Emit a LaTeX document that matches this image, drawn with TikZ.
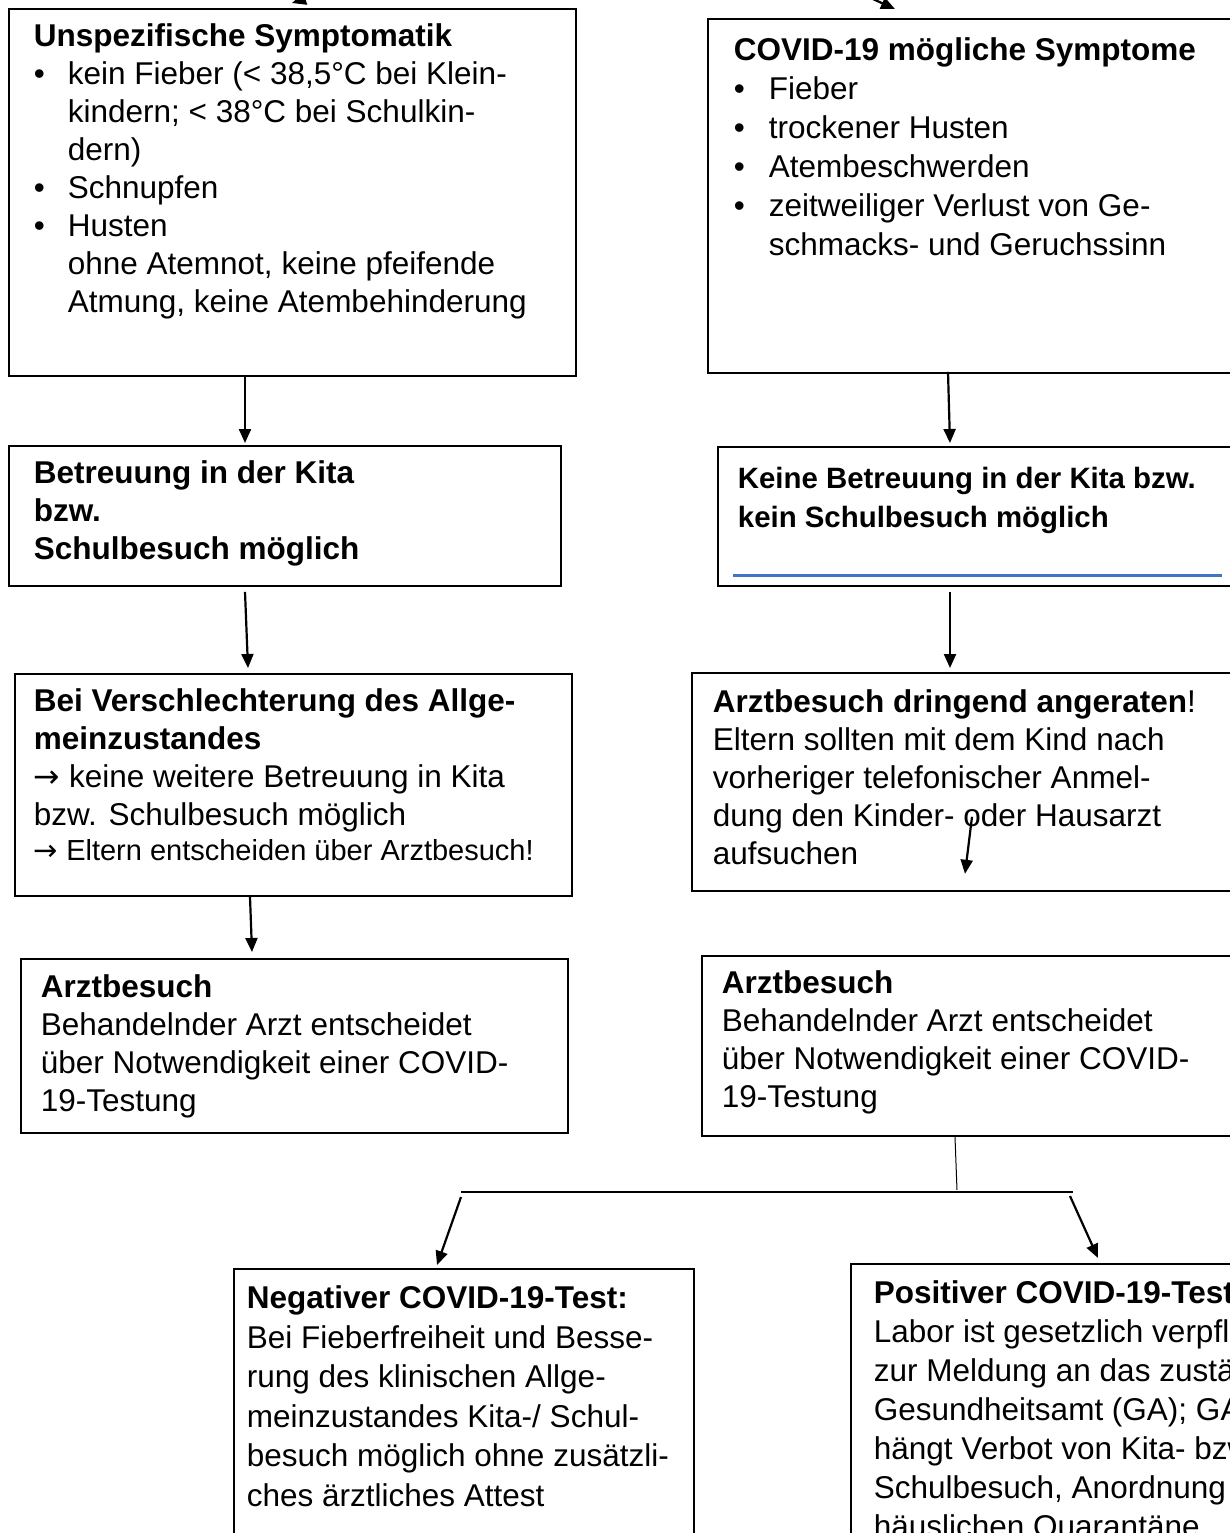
\documentclass[tikz,border=0pt]{standalone}
\usepackage{fontspec}
\setmainfont{Liberation Sans}
\newfontfamily\arrowfont{DejaVu Sans}
\usetikzlibrary{arrows.meta}

\definecolor{wordblue}{HTML}{4472C4}

% text set-up of the boxes
\newcommand{\txt}{\fontsize{15.75pt}{19pt}\selectfont}
\newcommand{\boxbody}[3]{\parbox[t][#2][t]{#1}{\txt\raggedright\hyphenpenalty=10000\exhyphenpenalty=10000\strut #3}}
\newcommand{\bul}[1][17pt]{\par\hangindent=#1\hangafter=1\noindent\makebox[#1][l]{\textbullet}}
\newcommand{\rarr}{{\arrowfont →}}

\begin{document}
\begin{tikzpicture}[x=0.5pt, y=-0.5pt,
  flowbox/.style={draw, line width=0.9pt, anchor=north west},
  arr/.style={line width=1.1pt, -{Triangle[length=7pt, width=6pt]}},
  branchline/.style={line width=0.9pt},
  thinline/.style={line width=0.5pt},
  blueline/.style={draw=wordblue, line width=1.5pt}]

\useasboundingbox (0,0) rectangle (1230,1533);
\clip (0,0) rectangle (1230,1533);

% left column
\node[flowbox, inner xsep=12.5pt, inner ysep=5.7pt] (symA) at (8,8) {\boxbody{258.5pt}{172.1pt}{%
  \textbf{Unspezifische Symptomatik}
  \bul kein Fieber (< 38,5°C bei Klein-\newline kindern; < 38°C bei Schulkin-\newline dern)
  \bul Schnupfen
  \bul Husten\newline ohne Atemnot, keine pfeifende\newline Atmung, keine Atembehinderung}};

\node[flowbox, inner xsep=12.5pt, inner ysep=5.7pt] (betrC) at (8,445) {\boxbody{251pt}{58.6pt}{%
  \textbf{Betreuung in der Kita}\\\textbf{bzw.}\\\textbf{Schulbesuch möglich}}};

\node[flowbox, inner xsep=9.5pt, inner ysep=5.7pt] (verschlE) at (14,673) {\boxbody{259.5pt}{99.6pt}{%
  \textbf{Bei Verschlechterung des Allge-}\\\textbf{meinzustandes}\\
  \rarr\ keine weitere Betreuung in Kita\\bzw. Schulbesuch möglich
  \par{\fontsize{14.5pt}{17.5pt}\selectfont\rarr\ Eltern entscheiden über Arztbesuch!\par}}};

\node[flowbox, inner xsep=10pt, inner ysep=6.2pt] (arztG) at (20,958) {\boxbody{253.5pt}{74.6pt}{%
  \textbf{Arztbesuch}\\Behandelnder Arzt entscheidet\\über Notwendigkeit einer COVID-\\19-Testung}};

% right column
\node[flowbox, inner xsep=13pt, inner ysep=7.2pt] (symB) at (707,18) {\parbox[t][162.6pt][t]{236.5pt}{%
  \fontsize{15.75pt}{19.5pt}\selectfont\raggedright\hyphenpenalty=10000\strut
  \textbf{COVID-19 mögliche Symptome}
  \bul[17.5pt]Fieber
  \bul[17.5pt]trockener Husten
  \bul[17.5pt]Atembeschwerden
  \bul[17.5pt]zeitweiliger Verlust von Ge-\newline schmacks- und Geruchssinn}};

\node[flowbox, inner xsep=10pt, inner ysep=7.35pt] (keineD) at (717,446) {\parbox[t][54.8pt][t]{237.5pt}{%
  \fontsize{14.7pt}{19.5pt}\selectfont\raggedright\strut
  \textbf{Keine Betreuung in der Kita bzw.}\\\textbf{kein Schulbesuch möglich}}};

\node[flowbox, inner xsep=10.5pt, inner ysep=6.7pt] (arztF) at (691,672) {\boxbody{249.5pt}{95.6pt}{%
  \textbf{Arztbesuch dringend angeraten}!\\Eltern sollten mit dem Kind nach\\vorheriger telefonischer Anmel-\\dung den Kinder- oder Hausarzt\\aufsuchen}};

\node[flowbox, inner xsep=10pt, inner ysep=5.7pt] (arztH) at (701,955) {\boxbody{245.5pt}{78.6pt}{%
  \textbf{Arztbesuch}\\Behandelnder Arzt entscheidet\\über Notwendigkeit einer COVID-\\19-Testung}};

% test results
\node[flowbox, inner xsep=6.5pt, inner ysep=6.2pt] (negI) at (233,1268) {\parbox[t][147.6pt][t]{217pt}{%
  \fontsize{15.75pt}{19.75pt}\selectfont\raggedright\hyphenpenalty=10000\strut
  \textbf{Negativer COVID-19-Test:}\\Bei Fieberfreiheit und Besse-\\rung des klinischen Allge-\\meinzustandes Kita-/ Schul-\\besuch möglich ohne zusätzli-\\ches ärztliches Attest}};

\node[flowbox, inner xsep=11.5pt, inner ysep=6.2pt] (posJ) at (850,1263) {\parbox[t][147.6pt][t]{277pt}{%
  \fontsize{15.75pt}{19.5pt}\selectfont\raggedright\hyphenpenalty=10000\strut
  \textbf{Positiver COVID-19-Test}\\Labor ist gesetzlich verpflichtet\\zur Meldung an das zuständige\\Gesundheitsamt (GA); GA\\hängt Verbot von Kita- bzw.\\Schulbesuch, Anordnung\\häuslichen Quarantäne}};

\draw[blueline] ([xshift=8pt, yshift=5.5pt]keineD.south west) -- ([xshift=-6pt, yshift=5.5pt]keineD.south east);

% arrows coming in from above
\coordinate (inA) at (380,-25);
\coordinate (inB) at (820,-25);
\draw[arr] (inA) -- ([xshift=142pt, yshift=2.5pt]symA.north west);
\draw[arr] (inB) -- ([xshift=94pt, yshift=4.5pt]symB.north west);

% arrows down the columns
\draw[arr] ([xshift=118.5pt]symA.south west) -- ([xshift=118.5pt, yshift=1pt]betrC.north west);
\draw[arr] ([xshift=120.5pt, yshift=1pt]symB.south west) -- ([xshift=116.5pt, yshift=1.5pt]keineD.north west);
\draw[arr] ([xshift=118.5pt, yshift=-2.5pt]betrC.south west) -- ([xshift=117pt, yshift=2.5pt]verschlE.north west);
\draw[arr] ([xshift=116.5pt, yshift=-2.5pt]keineD.south west) -- ([xshift=129.5pt, yshift=2pt]arztF.north west);
\draw[arr] ([xshift=118pt]verschlE.south west) -- ([xshift=116pt, yshift=3pt]arztG.north west);
\draw[arr] ([xshift=140.5pt, yshift=37.5pt]arztF.south west) -- ([xshift=137pt, yshift=9pt]arztF.south west);

% branching to the test results
\coordinate (forkM) at (957,1190);
\coordinate (forkL) at (461,1192);
\coordinate (forkR) at (1073,1192);
\draw[thinline] ([xshift=127pt]arztH.south west) -- (forkM);
\draw[branchline] (forkL) -- (forkR);
\draw[arr] ([yshift=-2.5pt]forkL) -- ([xshift=102pt, yshift=1.5pt]negI.north west);
\draw[arr] ([xshift=-1.5pt, yshift=-2pt]forkR) -- ([xshift=124pt, yshift=2.5pt]posJ.north west);
\end{tikzpicture}
\end{document}
